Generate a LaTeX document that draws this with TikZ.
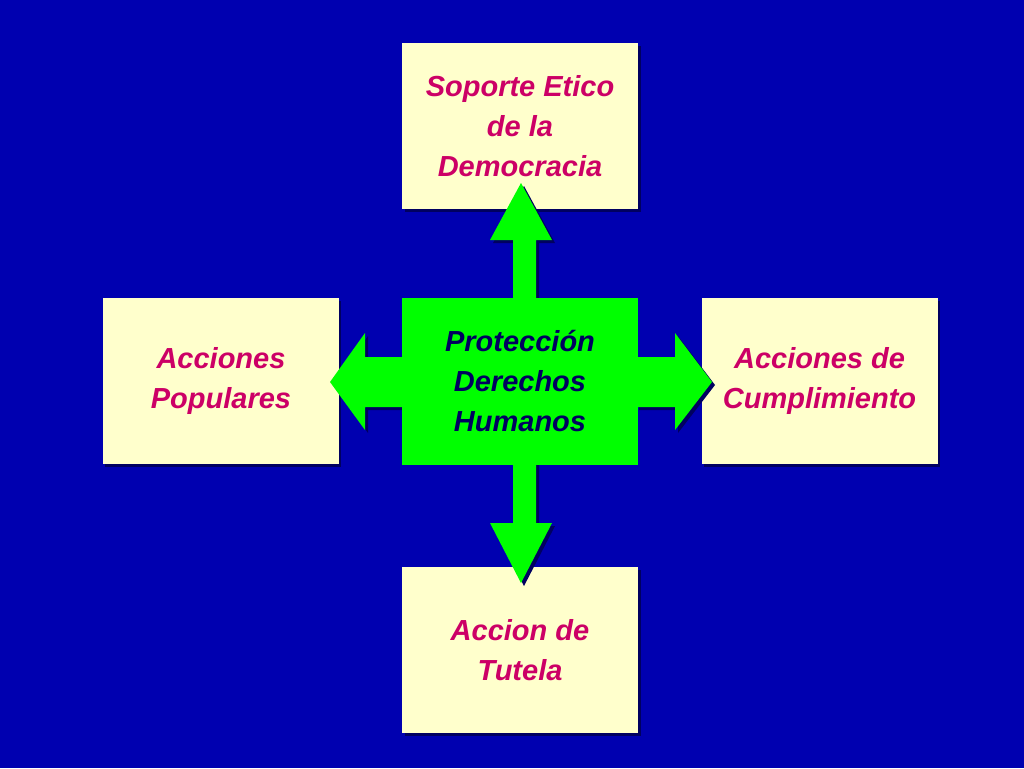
\documentclass[tikz,border=0pt]{standalone}
\usepackage{fontspec}
\setmainfont{Liberation Sans}
\definecolor{bg}{HTML}{0000B0}
\definecolor{boxfill}{HTML}{FFFFCC}
\definecolor{txt}{HTML}{CC0066}
\definecolor{navy}{HTML}{000060}
\definecolor{grn}{HTML}{00FF00}
\begin{document}
\begin{tikzpicture}[x=1pt,y=-1pt,
  box/.style={fill=boxfill,minimum width=236pt,minimum height=166pt,inner sep=0pt,
    text=txt,font=\bfseries\itshape\fontsize{29}{40}\selectfont,align=center},
  shad/.style={fill=navy},
  arr/.style={fill=grn}]
\fill[bg] (0,0) rectangle (1024,768);
\useasboundingbox (0,0) rectangle (1024,768);
% box shadows
\foreach \x/\y in {402/43,102/298,701/298,402/567}{\fill[shad] (\x+3,\y+3) rectangle ++(236,166);}
\node[box] (top) at (520,126) {Soporte Etico\\de la\\Democracia};
\node[box] (left) at (221,381) {Acciones\\Populares};
\node[box] (right) at (819.5,381) {Acciones de\\Cumplimiento};
\node[box] (bot) at (520,650) {Accion de\\Tutela};
% arrows: shadows then fills
\foreach \dx/\st in {3/shad,0/arr}{
  \begin{scope}[shift={(\dx,\dx)}]
  \path[\st]
    (513,300) -- (513,240) -- (490,240) -- (521,183) -- (552,240) -- (536,240) -- (536,300) -- cycle
    (513,462) -- (513,523) -- (490,523) -- (521,583) -- (552,523) -- (536,523) -- (536,462) -- cycle
    (404,357) -- (365,357) -- (365,333) -- (330,382) -- (365,430) -- (365,407) -- (404,407) -- cycle
    (636,357) -- (675,357) -- (675,333) -- (712,382) -- (675,430) -- (675,407) -- (636,407) -- cycle;
  \end{scope}}
\node[fill=grn,minimum width=236pt,minimum height=167pt,inner sep=0pt,text=navy,
  font=\bfseries\itshape\fontsize{29}{40}\selectfont,align=center] (c) at (520,381.5)
  {Protección\\ Derechos\\ Humanos};
\end{tikzpicture}
\end{document}
